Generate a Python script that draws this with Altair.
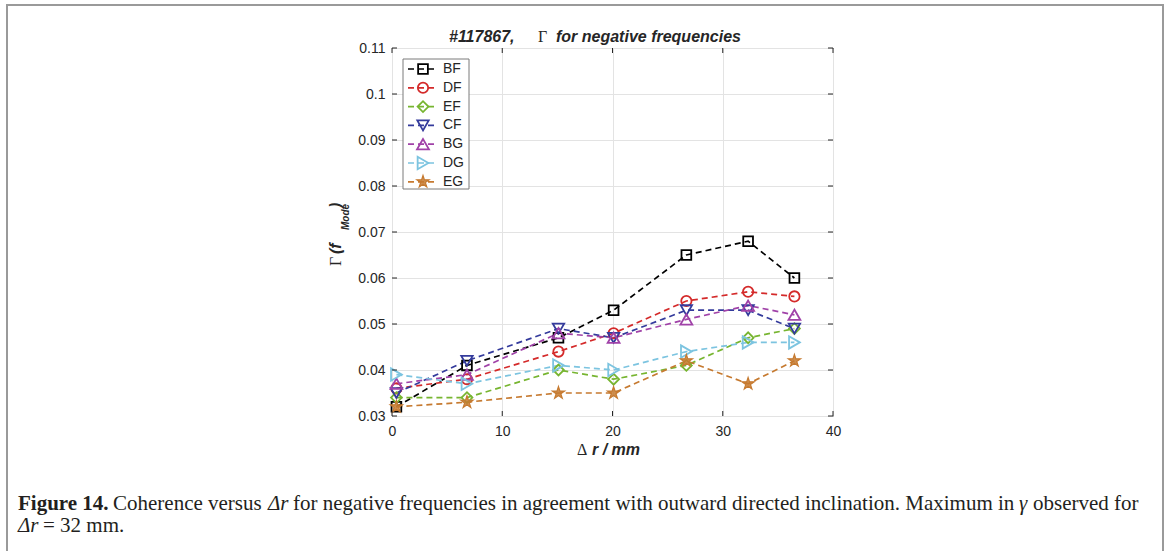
import altair as alt
import pandas as pd

# ---------------- data ----------------
series = ["BF", "DF", "EF", "CF", "BG", "DG", "EG"]
dr = [0.4, 6.8, 15.1, 20.1, 26.7, 32.3, 36.5]
BF = [0.032, 0.041, 0.047, 0.053, 0.065, 0.068, 0.060]
DF = [0.036, 0.038, 0.044, 0.048, 0.055, 0.057, 0.056]
EF = [0.034, 0.034, 0.040, 0.038, 0.041, 0.047, 0.049]
CF = [0.035, 0.042, 0.049, 0.047, 0.053, 0.053, 0.049]
BG = [0.037, 0.039, 0.048, 0.047, 0.051, 0.054, 0.052]
DG = [0.039, 0.037, 0.041, 0.040, 0.044, 0.046, 0.046]
EG = [0.032, 0.033, 0.035, 0.035, 0.042, 0.037, 0.042]
x_ticks = [0, 10, 20, 30, 40]
y_ticks = [0.03, 0.04, 0.05, 0.06, 0.07, 0.08, 0.09, 0.10, 0.11]

# ---------------- styles ----------------
colors = ["#000000", "#d42a2a", "#77b530", "#343b9c", "#a042a8", "#7cc4e0", "#c67a30"]
STAR = ("M0,-1L0.223,-0.307L0.951,-0.309L0.361,0.117L0.588,0.809L0,0.38"
        "L-0.588,0.809L-0.361,0.117L-0.951,-0.309L-0.223,-0.307Z")
shapes = ["square", "circle", "diamond", "triangle-down", "triangle-up", "triangle-right", STAR]
sizes = [95, 165, 175, 175, 175, 175, 215]

vals = {"BF": BF, "DF": DF, "EF": EF, "CF": CF, "BG": BG, "DG": DG, "EG": EG}
rows = []
for i, s in enumerate(series):
    for x, y in zip(dr, vals[s]):
        rows.append({"series": s, "order": i, "dr": x, "gamma": y})
df = pd.DataFrame(rows)

W, H = 441, 368
color_scale = alt.Scale(domain=series, range=colors)
shape_scale = alt.Scale(domain=series, range=shapes)
size_scale = alt.Scale(domain=series, range=sizes)
xs = alt.Scale(domain=[0, 40], nice=False, zero=False)
ys = alt.Scale(domain=[0.03, 0.11], nice=False, zero=False)

base = alt.Chart(df)
lines = base.mark_line(strokeDash=[6, 4], strokeWidth=1.7).encode(
    x=alt.X("dr:Q", scale=xs,
            axis=alt.Axis(values=x_ticks, title=None, labelPadding=8, format="d",
                          labelFlush=False)),
    y=alt.Y("gamma:Q", scale=ys,
            axis=alt.Axis(values=y_ticks, title=None, labelPadding=7, format=".2~f",
                          labelFlush=False)),
    color=alt.Color("series:N", scale=color_scale, legend=None),
    detail="series:N",
    order="dr:Q",
)
points = base.transform_filter(alt.datum.series != "EG").mark_point(
    filled=False, strokeWidth=1.8, opacity=1).encode(
    x=alt.X("dr:Q", scale=xs),
    y=alt.Y("gamma:Q", scale=ys),
    color=alt.Color("series:N", scale=color_scale, legend=None),
    shape=alt.Shape("series:N", scale=shape_scale, legend=None),
    size=alt.Size("series:N", scale=size_scale, legend=None),
    order="order:Q",
)
stars = base.transform_filter(alt.datum.series == "EG").mark_point(
    filled=True, strokeWidth=1.2, opacity=1, fillOpacity=0.85).encode(
    x=alt.X("dr:Q", scale=xs),
    y=alt.Y("gamma:Q", scale=ys),
    color=alt.Color("series:N", scale=color_scale, legend=None),
    stroke=alt.Stroke("series:N", scale=color_scale, legend=None),
    shape=alt.Shape("series:N", scale=shape_scale, legend=None),
    size=alt.Size("series:N", scale=size_scale, legend=None),
)

# inner ticks (MATLAB style) on all four sides
ytdf = pd.DataFrame({"t": y_ticks})
xtdf = pd.DataFrame({"t": x_ticks})
tick_col = "#262626"
yt_left = alt.Chart(ytdf).mark_rule(color=tick_col).encode(
    y=alt.Y("t:Q", scale=ys), x=alt.value(0), x2=alt.value(5))
yt_right = alt.Chart(ytdf).mark_rule(color=tick_col).encode(
    y=alt.Y("t:Q", scale=ys), x=alt.value(W - 5), x2=alt.value(W))
xt_bot = alt.Chart(xtdf).mark_rule(color=tick_col).encode(
    x=alt.X("t:Q", scale=xs), y=alt.value(H - 5), y2=alt.value(H))
xt_top = alt.Chart(xtdf).mark_rule(color=tick_col).encode(
    x=alt.X("t:Q", scale=xs), y=alt.value(0), y2=alt.value(5))

# manual legend box
one = pd.DataFrame({"a": [0]})
leg_box = alt.Chart(one).mark_rect(fill="white", stroke="#7a7a7a", strokeWidth=1).encode(
    x=alt.value(11), x2=alt.value(77), y=alt.value(11), y2=alt.value(141))
legdf = pd.DataFrame({"series": series, "py": [21 + 18.8 * i for i in range(len(series))]})
leg_lines = alt.Chart(legdf).mark_rule(strokeDash=[6, 4], strokeWidth=1.7).encode(
    y=alt.Y("py:Q", scale=None, axis=None),
    x=alt.value(16), x2=alt.value(45),
    color=alt.Color("series:N", scale=color_scale, legend=None))
leg_pts = alt.Chart(legdf).transform_filter(alt.datum.series != "EG").mark_point(
    filled=False, strokeWidth=1.8, opacity=1).encode(
    y=alt.Y("py:Q", scale=None, axis=None),
    x=alt.value(31),
    color=alt.Color("series:N", scale=color_scale, legend=None),
    shape=alt.Shape("series:N", scale=shape_scale, legend=None),
    size=alt.Size("series:N", scale=size_scale, legend=None))
leg_star = alt.Chart(legdf).transform_filter(alt.datum.series == "EG").mark_point(
    filled=True, strokeWidth=1.2, opacity=1, fillOpacity=0.85).encode(
    y=alt.Y("py:Q", scale=None, axis=None),
    x=alt.value(31),
    color=alt.Color("series:N", scale=color_scale, legend=None),
    stroke=alt.Stroke("series:N", scale=color_scale, legend=None),
    shape=alt.Shape("series:N", scale=shape_scale, legend=None),
    size=alt.Size("series:N", scale=size_scale, legend=None))
leg_txt = alt.Chart(legdf).mark_text(align="left", baseline="middle", fontSize=14,
                                     font="Liberation Sans", color="#262626").encode(
    y=alt.Y("py:Q", scale=None, axis=None),
    x=alt.value(51), text="series:N")


def txt(s, x, y, size=14, font="Liberation Sans", weight="normal", style="normal",
        angle=0, align="left", color="#262626"):
    kw = dict(align=align, baseline="middle", fontSize=size, font=font,
              fontWeight=weight, fontStyle=style, color=color, text=s)
    if angle:
        kw["angle"] = angle
    return alt.Chart(one).mark_text(**kw).encode(x=alt.value(x), y=alt.value(y))


# title
title_parts = [
    txt("#117867,", 57, -11, size=16, weight="bold", style="italic"),
    txt("Γ", 146, -11, size=16, font="Liberation Serif"),
    txt("for negative frequencies", 164, -11, size=16, weight="bold", style="italic"),
]
# x label
xlab = [
    txt("Δ", 185, 402, size=16, font="Liberation Serif"),
    txt("r / mm", 200, 402, size=16, weight="bold", style="italic"),
]
# y label (rotated)
ylab = [
    txt("Γ", -56, 218, size=16, font="Liberation Serif", angle=270),
    txt("(f", -56, 206, size=16, weight="bold", style="italic", angle=270),
    txt("Mode", -46, 182, size=10, weight="bold", style="italic", angle=270),
    txt(")", -56, 160, size=16, weight="bold", style="italic", angle=270),
]
# caption
CF_FONT = "Liberation Serif"
CS = 21
CC = "#231f20"
cap = [
    txt("Figure 14.", -374, 456, size=CS, font=CF_FONT, weight="bold", color=CC),
    txt("Coherence versus", -279, 456, size=CS, font=CF_FONT, color=CC),
    txt("Δr", -124, 456, size=CS, font=CF_FONT, style="italic", color=CC),
    txt("for negative frequencies in agreement with outward directed inclination. Maximum in",
        -99, 456, size=CS, font=CF_FONT, color=CC),
    txt("γ", 627, 456, size=CS, font=CF_FONT, style="italic", color=CC),
    txt("observed for", 641, 456, size=CS, font=CF_FONT, color=CC),
    txt("Δr", -374, 478, size=CS, font=CF_FONT, style="italic", color=CC),
    txt("= 32 mm.", -349, 478, size=CS, font=CF_FONT, color=CC),
]
border = alt.Chart(one).mark_rect(filled=False, stroke="#9a9a9a", strokeWidth=2).encode(
    x=alt.value(-385), x2=alt.value(771), y=alt.value(-43), y2=alt.value(620))

chart = alt.layer(
    border, lines, points, stars, yt_left, yt_right, xt_bot, xt_top,
    leg_box, leg_lines, leg_pts, leg_star, leg_txt,
    *title_parts, *xlab, *ylab, *cap,
).properties(
    width=W, height=H,
    padding={"left": 392, "top": 48, "right": 1170 - 392 - W, "bottom": 551 - 48 - H},
    autosize=alt.AutoSizeParams(type="none"),
    background="white",
).configure_view(
    stroke="#262626", strokeWidth=1
).configure_axis(
    grid=True, gridColor="#e3e3e3", gridWidth=1, domain=False, ticks=False,
    labelFont="Liberation Sans", labelFontSize=14, labelColor="#262626",
)

chart.save("out.html", embed_options={"renderer": "svg", "actions": False})
